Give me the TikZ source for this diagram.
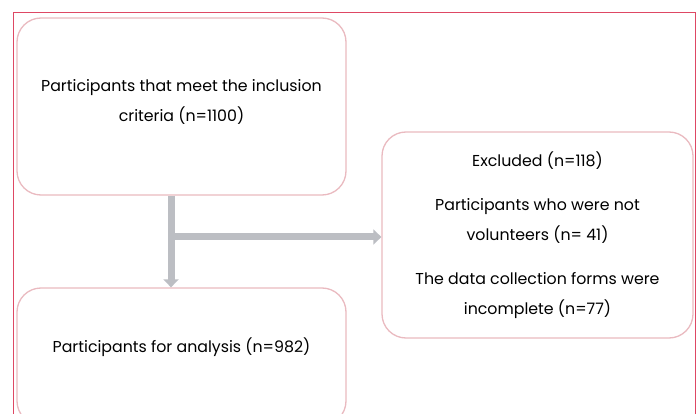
\documentclass[tikz,border=0pt]{standalone}
\usepackage{fontspec}
\setmainfont{Poppins}
\usetikzlibrary{arrows.meta}
\definecolor{boxpink}{RGB}{234,186,192}
\definecolor{framered}{RGB}{222,72,100}
\definecolor{arrowgray}{RGB}{188,190,195}
\begin{document}
\begin{tikzpicture}[x=1pt,y=-1pt,
  box/.style={draw=boxpink, line width=1.3pt, rounded corners=24pt, align=center,
    font=\fontsize{15.8}{30}\selectfont, inner sep=0pt},
  flow/.style={draw=arrowgray, line width=7pt, -{Triangle[width=15pt,length=8pt]}}]
\clip (0,0) rectangle (699,414);
\fill[white] (0,0) rectangle (699,414);
\draw[framered, line width=1pt] (13.5,12.5) rectangle (695,440);
\node[box, minimum width=329, minimum height=177] (incl) at (181.5,106.5)
  {Participants that meet the inclusion\\criteria (n=1100)\rule[-12pt]{0pt}{0pt}};
\node[box, minimum width=311, minimum height=206] (excl) at (537.5,235)
  {Excluded (n=118)\\[14pt]Participants who were not\\volunteers (n= 41)\\[14pt]The data collection forms were\\incomplete (n=77)};
\node[box, minimum width=329, minimum height=137] (anal) at (181.5,356.5)
  {Participants for analysis (n=982)\rule[-23pt]{0pt}{0pt}};
\coordinate (j) at (171,237);
\draw[flow] (incl.south -| j) -- (anal.north -| j);
\draw[flow] (j) -- (excl.west |- j);
\end{tikzpicture}
\end{document}
